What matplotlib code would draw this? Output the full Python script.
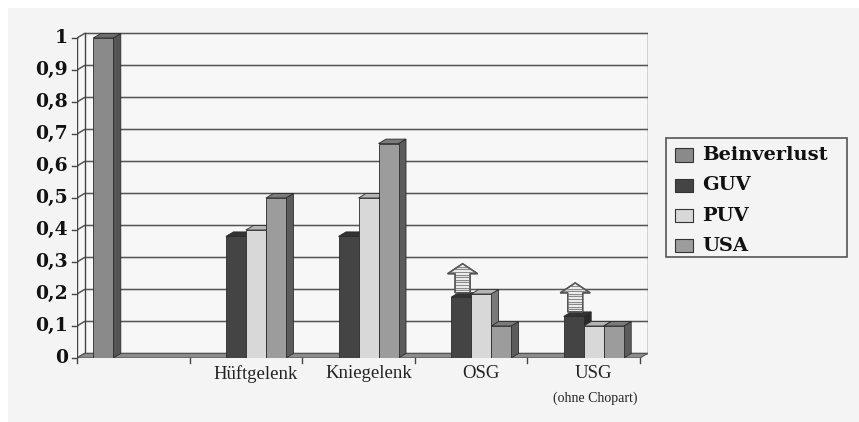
import matplotlib
matplotlib.use("Agg")
import matplotlib.pyplot as plt
from matplotlib.patches import Polygon, Rectangle
from matplotlib.lines import Line2D

# ---- data -------------------------------------------------------------
categories = ["", "Hüftgelenk", "Kniegelenk", "OSG", "USG"]
category_notes = ["", "", "", "", "(ohne Chopart)"]
series_names = ["Beinverlust", "GUV", "PUV", "USA"]
beinverlust = [1.0, None, None, None, None]
guv = [None, 0.38, 0.38, 0.19, 0.13]
puv = [None, 0.40, 0.50, 0.20, 0.10]
usa = [None, 0.50, 0.67, 0.10, 0.10]
guv_raised = [False, False, False, True, True]   # GUV value expected to rise
y_ticks = [0, 0.1, 0.2, 0.3, 0.4, 0.5, 0.6, 0.7, 0.8, 0.9, 1.0]
y_tick_labels = ["0", "0,1", "0,2", "0,3", "0,4", "0,5", "0,6", "0,7", "0,8", "0,9", "1"]

# ---- styling ----------------------------------------------------------
W, H, DPI = 859, 422, 100
front_colors = ["#8a8a8a", "#444444", "#d8d8d8", "#9c9c9c"]
side_colors = ["#555555", "#2a2a2a", "#7a7a7a", "#5c5c5c"]
top_colors = ["#6c6c6c", "#333333", "#b4b4b4", "#7a7a7a"]
edge = "#2b2b2b"
grid_col = "#555555"
bg = "#f4f4f4"
wall = "#f7f7f7"

CAT_PX = 112.6          # pixels per category
UNIT_PX = 320.0         # pixels per 1.0 on the value axis
AX_LEFT, AX_BOTTOM = 77, 358
XMAX = 571 / CAT_PX
YMAX = 1.025
DX = 7.5 / CAT_PX       # depth offset (x, data units)
DY = 4.5 / UNIT_PX      # depth offset (y, data units)
px_x = 1 / CAT_PX
px_y = 1 / UNIT_PX

SERIF = ["Liberation Serif", "DejaVu Serif"]
BOLD_SERIF = ["DejaVu Serif"]

fig = plt.figure(figsize=(W / DPI, H / DPI), dpi=DPI, facecolor="white")
fig.add_artist(Rectangle((8 / W, 0), (W - 8) / W, (H - 8) / H,
                         transform=fig.transFigure, facecolor=bg,
                         edgecolor="none", zorder=-10))

ax_h = YMAX * UNIT_PX
ax = fig.add_axes([AX_LEFT / W, (H - AX_BOTTOM) / H, XMAX * CAT_PX / W, ax_h / H])
ax.set_xlim(0, XMAX)
ax.set_ylim(0, YMAX)
ax.axis("off")
ax.patch.set_alpha(0)

n_cat = len(categories)

# back and side walls
ax.add_patch(Rectangle((DX, DY), n_cat, 1, facecolor=wall, edgecolor="none", zorder=1))
ax.add_patch(Polygon([(0, 0), (DX, DY), (DX, 1 + DY), (0, 1)], closed=True,
                     facecolor=wall, edgecolor="none", zorder=1))
for v in y_ticks:
    ax.add_line(Line2D([0, DX, n_cat + DX], [v, v + DY, v + DY],
                       color=grid_col, lw=1.1, zorder=2))
ax.add_line(Line2D([0, 0], [0, 1], color="#444444", lw=1.0, zorder=3))
ax.add_line(Line2D([DX, DX], [DY, 1 + DY], color="#444444", lw=1.0, zorder=3))
ax.add_line(Line2D([n_cat + DX, n_cat + DX], [DY, 1 + DY], color="#444444", lw=1.0, zorder=3))

# floor
ax.add_patch(Polygon([(0, 0), (n_cat, 0), (n_cat + DX, DY), (DX, DY)], closed=True,
                     facecolor="#8c8c8c", edgecolor="#555555", lw=0.8, zorder=3))

# value-axis ticks and labels
for v, lab in zip(y_ticks, y_tick_labels):
    ax.add_line(Line2D([-5 * px_x, 0], [v, v], color="#444444", lw=1.0,
                       zorder=3, clip_on=False))
    ax.text(-9 * px_x, v, lab, ha="right", va="center", fontsize=13.5,
            fontweight="bold", family=BOLD_SERIF, color="#111111")

# category ticks and labels
for i in range(n_cat + 1):
    ax.add_line(Line2D([i, i], [0, -5 * px_y], color="#444444", lw=1.0,
                       zorder=3, clip_on=False))
for i, (lab, note) in enumerate(zip(categories, category_notes)):
    cx = i + 0.5 + 10 * px_x
    if lab:
        ax.text(cx, -16 * px_y, lab, ha="center", va="center", fontsize=13.5,
                family=SERIF, color="#222222")
    if note:
        ax.text(cx + 2 * px_x, -40 * px_y, note, ha="center", va="center",
                fontsize=10, family=SERIF, color="#222222")

# bars
series_values = [beinverlust, guv, puv, usa]
n_ser = len(series_values)
bar_w = 20 * px_x
margin = (1 - n_ser * bar_w) / 2
guv_tops = {}
for i in range(n_cat):
    for j, vals in enumerate(series_values):
        v = vals[i]
        if v is None:
            continue
        x0 = i + margin + j * bar_w
        z = 4 + i * 0.1 + j * 0.01
        ax.add_patch(Polygon([(x0 + bar_w, 0), (x0 + bar_w + DX, DY),
                              (x0 + bar_w + DX, v + DY), (x0 + bar_w, v)],
                             closed=True, facecolor=side_colors[j],
                             edgecolor=edge, lw=0.6, zorder=z))
        ax.add_patch(Polygon([(x0, v), (x0 + bar_w, v), (x0 + bar_w + DX, v + DY),
                              (x0 + DX, v + DY)], closed=True,
                             facecolor=top_colors[j], edgecolor=edge, lw=0.6, zorder=z))
        ax.add_patch(Rectangle((x0, 0), bar_w, v, facecolor=front_colors[j],
                               edgecolor=edge, lw=0.6, zorder=z))
        if j == 1:
            guv_tops[i] = (x0, v)

# striped "rise" arrows above GUV bars
shaft_hw, head_hw, head_h, arrow_h = 7.5, 15, 10, 29
for i, up in enumerate(guv_raised):
    if not up or i not in guv_tops:
        continue
    x0, v = guv_tops[i]
    cx = x0 + bar_w / 2 + DX * 0.2
    yb = v + DY
    yt = yb + arrow_h * px_y
    yh = yt - head_h * px_y
    pts = [(cx - shaft_hw * px_x, yb), (cx + shaft_hw * px_x, yb),
           (cx + shaft_hw * px_x, yh), (cx + head_hw * px_x, yh),
           (cx, yt), (cx - head_hw * px_x, yh), (cx - shaft_hw * px_x, yh)]
    arrow = Polygon(pts, closed=True, facecolor="#fafafa", edgecolor="#555555",
                    lw=1.0, zorder=8)
    ax.add_patch(arrow)
    y = yb + 2.5 * px_y
    while y < yt - 2 * px_y:
        ln = Line2D([cx - head_hw * px_x, cx + head_hw * px_x], [y, y],
                    color="#8a8a8a", lw=0.9, zorder=8.5)
        ax.add_line(ln)
        ln.set_clip_path(arrow)
        y += 2.6 * px_y
    ax.add_patch(Polygon(pts, closed=True, facecolor="none", edgecolor="#555555",
                         lw=1.0, zorder=9))

# legend box
def fpx(x, y):
    return x / W, 1 - y / H

lx0, ly0, lx1, ly1 = 666, 138, 847, 257
fig.add_artist(Rectangle(fpx(lx0, ly1), (lx1 - lx0) / W, (ly1 - ly0) / H,
                         transform=fig.transFigure, facecolor=bg,
                         edgecolor="#555555", lw=1.2))
for k, name in enumerate(series_names):
    yc = 155 + k * 30.3
    fig.add_artist(Rectangle(fpx(675, yc + 6.5), 18 / W, 13 / H,
                             transform=fig.transFigure, facecolor=front_colors[k],
                             edgecolor="#333333", lw=0.8))
    fig.text(*fpx(702, yc), name, ha="left", va="center", fontsize=14,
             fontweight="bold", family=BOLD_SERIF, color="#111111")

fig.savefig("out.png", dpi=DPI, facecolor="white")
